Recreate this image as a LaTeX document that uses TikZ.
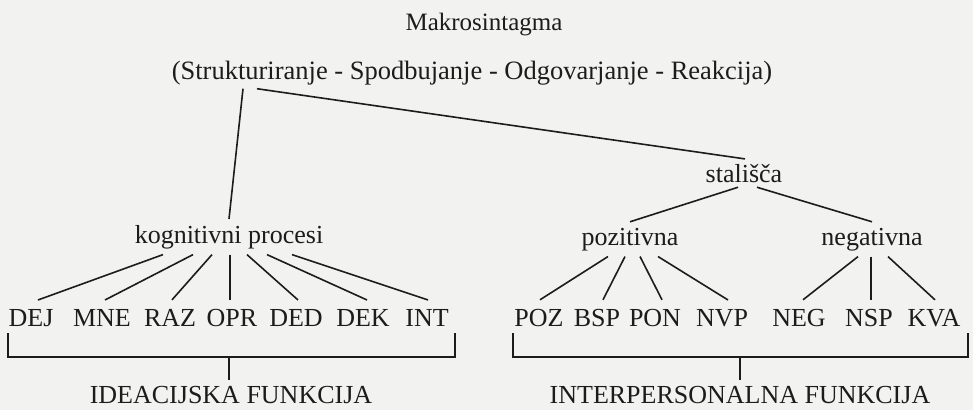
\documentclass[tikz,border=0pt]{standalone}
\usepackage{fontspec}
\setmainfont{Liberation Serif}
\definecolor{paper}{RGB}{242,242,240}
\definecolor{ink}{RGB}{28,28,28}
\begin{document}
\begin{tikzpicture}[x=1pt,y=-1pt,font=\fontsize{26}{30}\selectfont,
  word/.style={inner sep=0pt, outer sep=0pt, anchor=base, text=ink},
  edge/.style={draw=ink, line width=1.6pt}]
\fill[paper] (0,0) rectangle (973,410);
\node[word, font=\fontsize{25}{29}\selectfont] (makro) at (484,30) {Makrosintagma};
\node[word, font=\fontsize{26.5}{30}\selectfont] (potek) at (472,79) {(Strukturiranje - Spodbujanje - Odgovarjanje - Reakcija)};
\node[word] (kog) at (229,243) {kognitivni procesi};
\node[word] (stal) at (744,182) {stališča};
\node[word] (poz) at (630,245) {pozitivna};
\node[word] (neg) at (872,245) {negativna};
\draw[edge] ([xshift=-229pt,yshift=-4pt]potek.south) -- ([yshift=6pt]kog.north);
\draw[edge] ([xshift=-215pt,yshift=-4pt]potek.south) -- ([xshift=1pt,yshift=5pt]stal.north);
\draw[edge] ([xshift=-6pt,yshift=-5pt]stal.south) -- ([yshift=6pt]poz.north);
\draw[edge] ([xshift=13pt,yshift=-5pt]stal.south) -- ([yshift=6pt]neg.north);
% leaves: name / x / parent / shift at parent / shift at leaf
\foreach \name/\x/\up/\px/\cx in {DEJ/31/kog/-66/7, MNE/102/kog/-36/3, RAZ/170/kog/-17/2,
  OPR/232/kog/1/-2, DED/296/kog/18/2, DEK/363/kog/38/4, INT/427/kog/63/1,
  POZ/539/poz/-22/1, BSP/597/poz/-5/6, PON/655/poz/10/7, NVP/722/poz/28/6,
  NEG/799/neg/-14/4, NSP/869/neg/-1/2, KVA/934/neg/16/1} {
  \node[word] (\name) at (\x,326) {\name};
  \draw[edge] ([xshift=\px pt,yshift=-6pt]\up.south) -- ([xshift=\cx pt,yshift=9pt]\name.north);
}
% brackets
\coordinate (ideaL) at (8,333);
\coordinate (ideaR) at (455,333);
\coordinate (interL) at (513,333);
\coordinate (interR) at (968,333);
\draw[edge] (ideaL) -- ++(0,24) -| (ideaR);
\draw[edge] (interL) -- ++(0,24) -| (interR);
\node[word] (idea) at (231,403) {IDEACIJSKA FUNKCIJA};
\node[word] (inter) at (740,403) {INTERPERSONALNA FUNKCIJA};
\coordinate (ideaM) at (229,357);
\coordinate (interM) at (740,357);
\draw[edge] (ideaM) -- ([xshift=-2pt,yshift=6pt]idea.north);
\draw[edge] (interM) -- ([yshift=6pt]inter.north);
\end{tikzpicture}
\end{document}
